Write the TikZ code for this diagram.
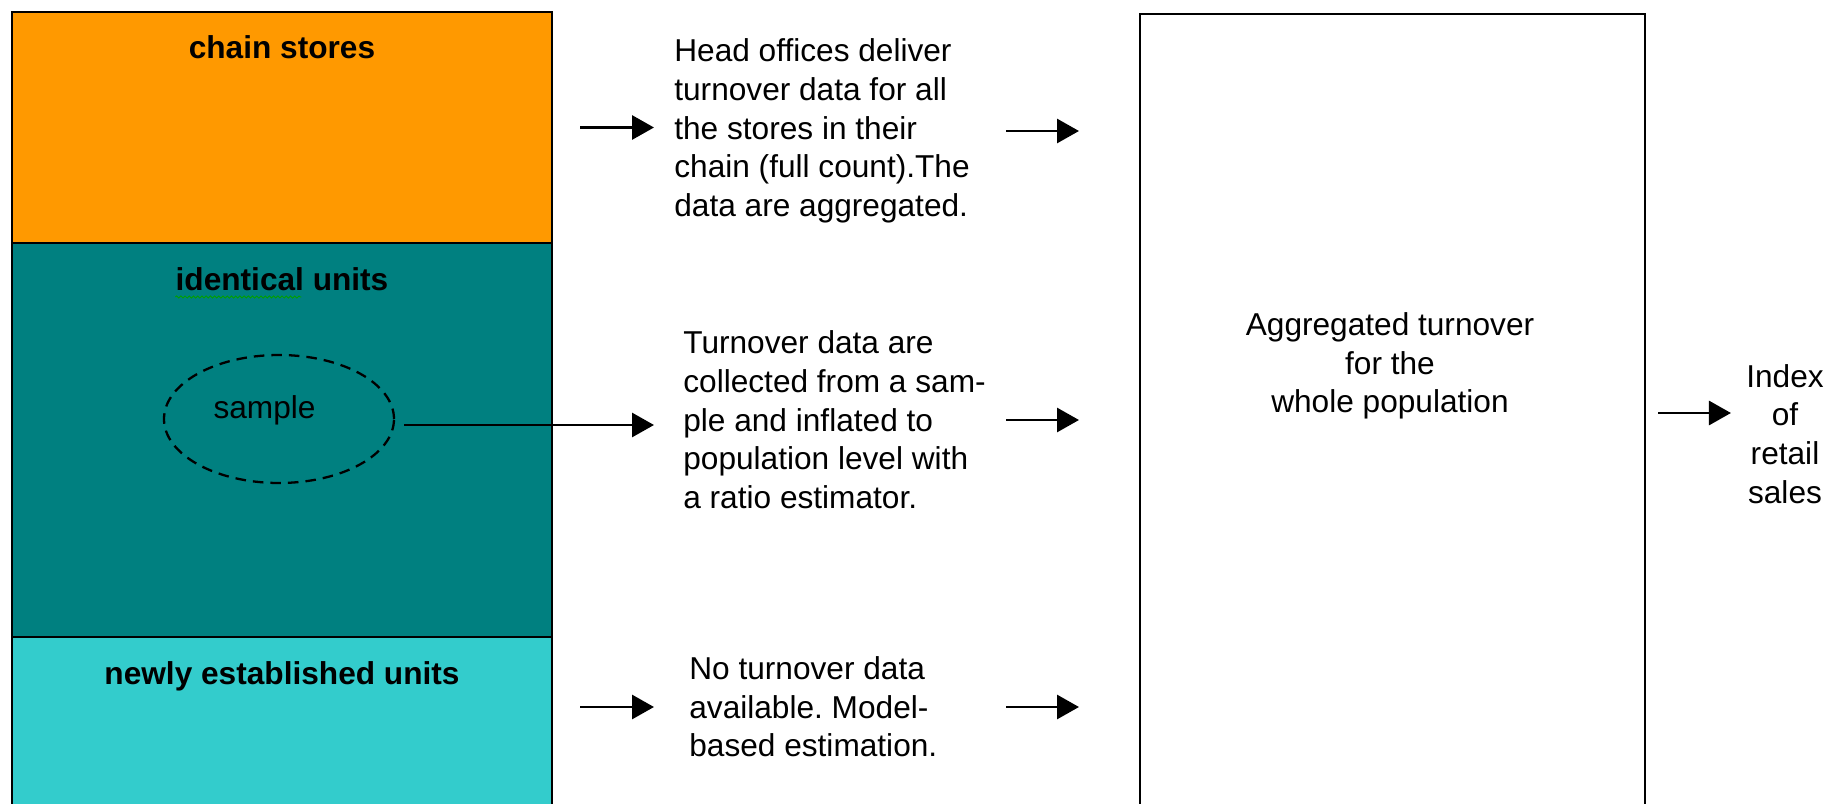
\documentclass[tikz,border=0pt]{standalone}
\usepackage{fontspec}
\setmainfont{Liberation Sans}
\frenchspacing
\usetikzlibrary{arrows.meta, positioning, calc, shapes.geometric, decorations.pathmorphing}
\definecolor{chainorange}{RGB}{255,153,0}
\definecolor{identteal}{RGB}{0,128,128}
\definecolor{newcyan}{RGB}{51,204,204}
\definecolor{spellgreen}{RGB}{0,160,0}
\tikzset{
    layer/.style={rectangle, draw=black, line width=0.8pt, minimum width=10.8cm, outer sep=0pt, inner sep=0pt},
    layertitle/.style={font=\fontsize{18}{22}\selectfont\bfseries, inner sep=0pt},
    note/.style={font=\fontsize{18}{22}\selectfont, align=left, inner sep=0pt, anchor=west},
    centrenote/.style={font=\fontsize{18}{22}\selectfont, align=center, inner sep=0pt},
    flow/.style={-{Triangle[length=0.44cm, width=0.48cm]}, line width=1.7pt},
    spellmark/.style={spellgreen, line width=0.5pt, decorate, decoration={snake, amplitude=0.6pt, segment length=2.4pt}},
}

\begin{document}
\begin{tikzpicture}
    \useasboundingbox (0,0) rectangle (36.62,-16.08);
    \clip (0,0) rectangle (36.62,-16.08);
    \node[layer, fill=chainorange, minimum height=4.62cm, anchor=north west] (chain) at (0.24,-0.24) {};
    \node[layer, fill=identteal, minimum height=7.88cm, below=0pt of chain] (ident) {};
    \node[layer, fill=newcyan, minimum height=3.9cm, below=0pt of ident] (newly) {};
    \node[layertitle, anchor=base] (chaintitle) at ($(chain.north)+(0,-0.94)$) {chain stores};
    \node[layertitle, anchor=base] (identtitle) at ($(ident.north)+(0,-0.94)$) {identical units};
    \node[layertitle, anchor=base] (newtitle) at ($(newly.north)+(0,-0.94)$) {newly established units};
    \draw[spellmark] ([yshift=-0.14cm]identtitle.base west) -- ++(2.52,0);
    \node[ellipse, draw, dash pattern=on 6pt off 4pt, line width=1.3pt, minimum width=4.6cm, minimum height=2.56cm] (sample) at (5.58,-8.38) {};
    \node[centrenote] (samplelabel) at (5.29,-8.2) {sample};
    \node[note] (chainnote) at (13.48,-2.62) {Head offices deliver\\turnover data for all\\the stores in their\\chain (full count).The\\data are aggregated.};
    \node[note] (collect) at (13.66,-8.4) {Turnover data are\\collected from a sam-\\ple and inflated to\\population level with\\a ratio estimator.};
    \node[note] (newnote) at (13.78,-14.14) {No turnover data\\available. Model-\\based estimation.};
    \node[draw, line width=1pt, minimum width=10.1cm, minimum height=16.4cm, inner sep=0pt, anchor=north west] (total) at (22.78,-0.26) {};
    \node[centrenote] (aggtext) at (27.8,-7.32) {Aggregated turnover\\for the\\whole population};
    \node[centrenote] (index) at (35.7,-8.68) {Index\\of\\retail\\sales};
    \coordinate (lgo) at (11.6,0);
    \coordinate (lend) at (13.08,0);
    \coordinate (rgo) at (20.12,0);
    \coordinate (rend) at (21.58,0);
    \coordinate (idx) at (33.16,-8.26);
    \draw[flow] (lgo |- chain.east) -- (lend |- chain.east);
    \draw[flow] ([xshift=0.18cm,yshift=-0.12cm]sample.east) -- ([yshift=-0.12cm]lend |- sample.east);
    \draw[flow] (lgo |- newnote.west) -- (lend |- newnote.west);
    \draw[flow] (rgo |- chainnote.east) -- (rend |- chainnote.east);
    \draw[flow] (rgo |- collect.east) -- (rend |- collect.east);
    \draw[flow] (rgo |- newnote.east) -- (rend |- newnote.east);
    \draw[flow, shorten >=0.3cm] (idx) -- (idx -| index.west);
\end{tikzpicture}
\end{document}
